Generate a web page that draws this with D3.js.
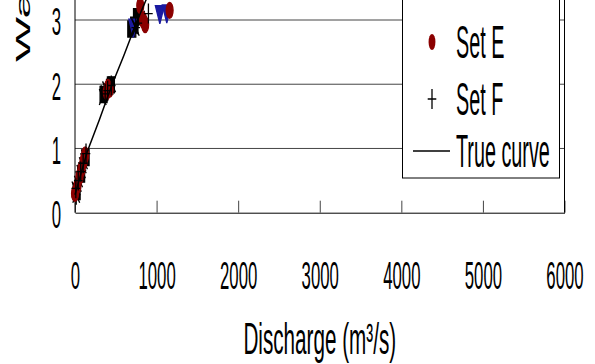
<!DOCTYPE html>
<html>
<head>
<meta charset="utf-8">
<script src="https://cdn.jsdelivr.net/npm/d3@7"></script>
<style>
body { margin: 0; background: white; }
svg { display: block; }
text { font-family: "Liberation Sans", Arial, sans-serif; fill: black; }
</style>
</head>
<body>
<svg></svg>
<script>
var w = 595
var h = 364
var sx = 0.43   // the whole figure is squashed sideways

// axis ticks
var xTicks = [0, 1000, 2000, 3000, 4000, 5000, 6000]
var yTicks = [0, 1, 2, 3]
var gridLevels = [1, 2, 3]

// observations (discharge m3/s, water level m)
var setA_Q = [20, 75, 130, 350, 440, 690, 725, 760]
var setA_H = [0.33, 0.6, 0.86, 1.84, 1.99, 2.86, 2.92, 3.05]
var setB_Q = [715, 1040, 1125]
var setB_H = [2.92, 3.13, 3.14]
var setC_Q = [5, 35, 65, 95, 120, 340, 380, 455, 735, 810]
var setC_H = [0.36, 0.45, 0.62, 0.74, 0.86, 1.8, 1.92, 2.0, 2.9, 3.02]
var setD_Q = [15, 50, 85, 110, 360, 425, 745]
var setD_H = [0.28, 0.52, 0.66, 0.8, 1.86, 1.96, 2.88]
var setE_Q = [0, 30, 55, 80, 105, 125, 390, 405, 425, 800, 835, 860, 1160]
var setE_H = [0.3, 0.42, 0.56, 0.68, 0.8, 0.9, 1.88, 1.95, 1.92, 3.22, 3.0, 2.93, 3.15]
var setF_Q = [10, 40, 70, 100, 135, 370, 400, 445, 770, 900]
var setF_H = [0.38, 0.5, 0.64, 0.77, 0.92, 1.85, 1.9, 1.98, 2.95, 3.1]

// true rating curve
var trueQ = [0, 60, 150, 300, 450, 600, 750, 900, 1100]
var trueH = [0.28, 0.55, 0.95, 1.45, 1.98, 2.45, 2.95, 3.4, 3.95]

var legendNames = ["Set E", "Set F", "True curve"]

var svg = d3.select("svg")
	.attr("width", w)
	.attr("height", h)
	.style("background-color", "white")

var x = d3.scaleLinear().domain([0, 6000]).range([75, 564.5])
var y = d3.scaleLinear().domain([0, 3]).range([212.7, 20])

function squash(px, py, s){
	return "translate(" + px + "," + py + ") scale(" + (s || sx) + ",1)"
}

//gridlines
svg.append("g").selectAll("line")
	.data(gridLevels)
	.enter().append("line")
	.attr("x1", x(0)).attr("x2", x(6000))
	.attr("y1", function(d){ return y(d) })
	.attr("y2", function(d){ return y(d) })
	.attr("stroke", "#444")
	.attr("stroke-width", 1)

//x axis with inner ticks
var xAxis = svg.append("g")
	.attr("transform", "translate(0," + y(0) + ")")
	.call(d3.axisBottom(x).tickValues(xTicks).tickFormat(d3.format("d"))
		.tickSize(-12).tickPadding(49).tickSizeOuter(0))
xAxis.select(".domain").attr("stroke", "black")
xAxis.selectAll(".tick line").attr("stroke", "#444")
xAxis.selectAll("text")
	.attr("font-size", 39)
	.attr("transform", "scale(" + sx + ",1)")
	.style("font-family", "Liberation Sans, Arial, sans-serif")

//y axis
var yAxis = svg.append("g")
	.attr("transform", "translate(" + x(0) + ",0)")
	.call(d3.axisLeft(y).tickValues(yTicks).tickFormat(d3.format("d"))
		.tickSize(0).tickPadding(14).tickSizeOuter(0))
yAxis.select(".domain").remove()
yAxis.selectAll("text")
	.attr("font-size", 39)
	.attr("dy", "0.38em")
	.style("font-family", "Liberation Sans, Arial, sans-serif")
	.each(function(){
		var t = d3.select(this)
		t.attr("transform", "translate(" + t.attr("x") + ",0) scale(" + sx + ",1)").attr("x", 0)
	})

// left axis and right frame run off the top of the picture
svg.append("line")
	.attr("x1", x(0)).attr("x2", x(0))
	.attr("y1", 0).attr("y2", y(0))
	.attr("stroke", "black")
svg.append("line")
	.attr("x1", x(6000)).attr("x2", x(6000))
	.attr("y1", 0).attr("y2", y(0))
	.attr("stroke", "black")

//markers
var markers = {
	square: d3.symbol().type(d3.symbolSquare).size(260)(),
	triangle: d3.symbol().type(d3.symbolTriangle).size(190)(),
	circle: d3.symbol().type(d3.symbolCircle).size(200)(),
	cross: "M-8,-8L8,8M-8,8L8,-8",
	star: "M-8,-8L8,8M-8,8L8,-8M0,-10V10M-10,0H10",
	plus: "M-10,0H10M0,-10V10"
}

function drawSet(qs, hs, shape, fill, stroke, rot){
	svg.append("g").selectAll("path")
		.data(qs)
		.enter().append("path")
		.attr("d", markers[shape])
		.attr("transform", function(d, i){
			return squash(x(d), y(hs[i])) + (rot ? " rotate(" + rot + ")" : "")
		})
		.attr("fill", fill)
		.attr("stroke", stroke)
		.attr("stroke-width", 1.3)
		.attr("vector-effect", "non-scaling-stroke")
}

drawSet(setA_Q, setA_H, "square", "black", "black")
drawSet(setB_Q, setB_H, "triangle", "#1a1aa0", "#1a1aa0", 180)
drawSet(setC_Q, setC_H, "cross", "none", "black")
drawSet(setD_Q, setD_H, "star", "none", "black")
drawSet(setE_Q, setE_H, "circle", "#8b0000", "#8b0000")
drawSet(setF_Q, setF_H, "plus", "none", "black")

//true curve
var lineMaker = d3.line()
	.x(function(d){ return x(d) })
	.y(function(d, i){ return y(trueH[i]) })

svg.append("path")
	.attr("d", lineMaker(trueQ))
	.attr("fill", "none")
	.attr("stroke", "black")
	.attr("stroke-width", 1.5)

//legend (top part is outside the picture)
var legend = svg.append("g")
legend.append("rect")
	.attr("x", 402.5).attr("y", -40)
	.attr("width", 157).attr("height", 218)
	.attr("fill", "white")
	.attr("stroke", "black")

var rowY = [42, 99, 151]
legend.append("path")
	.attr("d", markers.circle)
	.attr("transform", squash(432, rowY[0]))
	.attr("fill", "#8b0000")
legend.append("path")
	.attr("d", markers.plus)
	.attr("transform", squash(432, rowY[1]))
	.attr("stroke", "black").attr("stroke-width", 1.3)
	.attr("vector-effect", "non-scaling-stroke")
legend.append("line")
	.attr("x1", 413).attr("x2", 450)
	.attr("y1", rowY[2]).attr("y2", rowY[2])
	.attr("stroke", "black").attr("stroke-width", 1.3)

legend.selectAll("text")
	.data(legendNames)
	.enter().append("text")
	.attr("transform", function(d, i){ return squash(456, rowY[i] + 16) })
	.attr("font-size", 46)
	.text(function(d){ return d })

//axis titles
svg.append("text")
	.attr("transform", squash((x(0) + x(6000)) / 2, 354, 0.47))
	.attr("text-anchor", "middle")
	.attr("font-size", 44)
	.text("Discharge (m³/s)")

svg.append("text")
	.attr("transform", "translate(30,62) rotate(-90) scale(1," + sx + ")")
	.attr("font-size", 48)
	.text("Water level (m)")
</script>
</body>
</html>
